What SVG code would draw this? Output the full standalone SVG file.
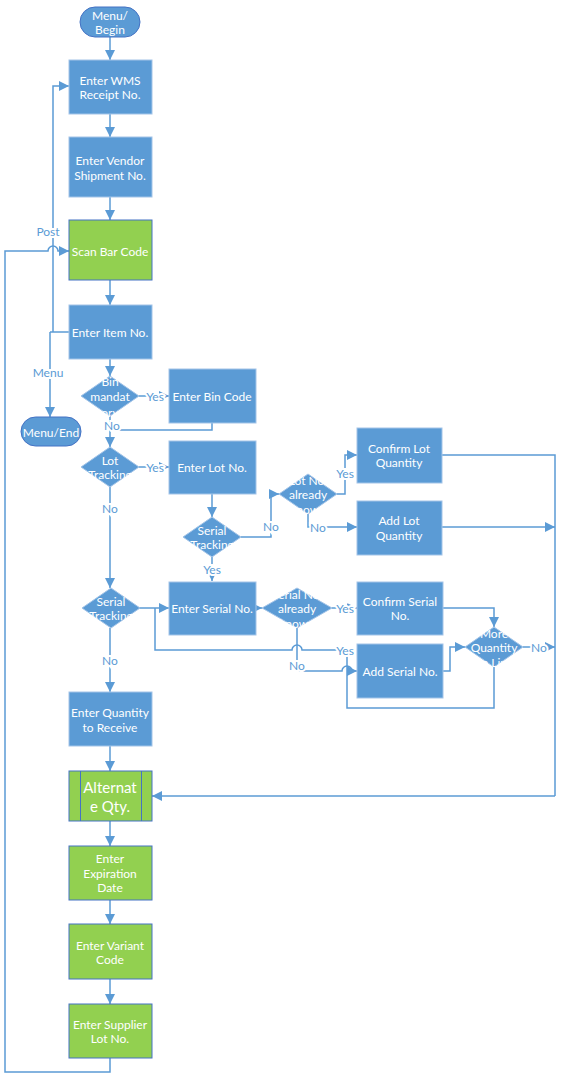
<svg xmlns="http://www.w3.org/2000/svg" width="581" height="1084" viewBox="0 0 581 1084">
<style>
.b{fill:#5B9BD5;stroke:#A3C4E8;stroke-width:1}
.g{fill:#92D050;stroke:#4472C4;stroke-width:1}
.term{fill:#5B9BD5;stroke:#4472C4;stroke-width:1}
.t{font-family:Lato,"Open Sans",sans-serif;font-size:12px;fill:#fff;text-anchor:middle;dominant-baseline:central}
.big{font-size:15px}
.l{font-family:Lato,"Open Sans",sans-serif;font-size:12px;fill:#5B9BD5;text-anchor:middle;dominant-baseline:central;stroke:#fff;stroke-width:4;paint-order:stroke}
.c{fill:none;stroke:#5B9BD5;stroke-width:1.5}
.a{marker-end:url(#ah)}
</style>
<defs>
<marker id="ah" markerUnits="userSpaceOnUse" markerWidth="10" markerHeight="10" viewBox="0 0 10 10" refX="10" refY="5" orient="auto">
<path d="M0,0 L10,5 L0,10 Z" fill="#5B9BD5"/>
</marker>
</defs>
<rect width="581" height="1084" fill="#fff"/>

<g id="connectors">
<path class="c a" d="M110,37 V60"/>
<path class="c a" d="M110,114 V137"/>
<path class="c a" d="M110,197 V220"/>
<path class="c a" d="M110,280 V305"/>
<path class="c a" d="M110,359 V376"/>
<path class="c" d="M69,332 H50"/>
<path class="c a" d="M53,332 V86 H69"/>
<path class="c a" d="M50,332 V417"/>
<path class="c a" d="M110,1058 V1072 H5 V251 H48 A5,5 0 0 1 58,251 H69"/>
<path class="c a" d="M139,396 H169"/>
<path class="c a" d="M110,416 V447"/>
<path class="c" d="M212,423 V430 H110"/>
<path class="c a" d="M139,467 H169"/>
<path class="c a" d="M212,494 V517"/>
<path class="c a" d="M241,537 H271 V494 H279"/>
<path class="c a" d="M212,557 V581"/>
<path class="c a" d="M337,494 H345 V455 H357"/>
<path class="c a" d="M308,514 V527 H357"/>
<path class="c" d="M442,455 H555 V796"/>
<path class="c a" d="M442,527 H555"/>
<path class="c a" d="M555,796 H152"/>
<path class="c a" d="M110,487 V588"/>
<path class="c a" d="M139,608 H169"/>
<path class="c a" d="M256,608 H262"/>
<path class="c a" d="M332,608 H357"/>
<path class="c a" d="M443,608 H494 V627"/>
<path class="c a" d="M443,671 H450 V647 H465"/>
<path class="c a" d="M523,647 H555"/>
<path class="c" d="M494,667 V708 H347 V650 H302 A5,5 0 0 0 292,650 H155 V608"/>
<path class="c a" d="M297,628 V671 H342 A5,5 0 0 1 352,671 H357"/>
<path class="c a" d="M110,628 V692"/>
<path class="c a" d="M110,746 V771"/>
<path class="c a" d="M110,821 V846"/>
<path class="c a" d="M110,900 V924"/>
<path class="c a" d="M110,979 V1004"/>
<text class="l" x="48" y="231">Post</text>
<text class="l" x="48" y="372">Menu</text>
<text class="l" x="155" y="396">Yes</text>
<text class="l" x="112" y="425">No</text>
<text class="l" x="155" y="467">Yes</text>
<text class="l" x="110" y="508">No</text>
<text class="l" x="271" y="526">No</text>
<text class="l" x="212" y="569">Yes</text>
<text class="l" x="345" y="473">Yes</text>
<text class="l" x="318" y="527">No</text>
<text class="l" x="345" y="608">Yes</text>
<text class="l" x="345" y="650">Yes</text>
<text class="l" x="297" y="665">No</text>
<text class="l" x="539" y="647">No</text>
<text class="l" x="110" y="660">No</text>
</g>

<g id="menu-begin"><rect class="term" x="80" y="7" width="60" height="30" rx="15"/><text class="t" x="110" y="15">Menu/</text><text class="t" x="110" y="29">Begin</text></g>
<g id="wms"><rect class="b" x="69" y="60" width="83" height="54"/><text class="t" x="110" y="80">Enter WMS</text><text class="t" x="110" y="94">Receipt No.</text></g>
<g id="vendor"><rect class="b" x="69" y="137" width="83" height="60"/><text class="t" x="110" y="160">Enter Vendor</text><text class="t" x="110" y="175">Shipment No.</text></g>
<g id="scan"><rect class="g" x="69" y="220" width="83" height="60"/><text class="t" x="110" y="251">Scan Bar Code</text></g>
<g id="item"><rect class="b" x="69" y="305" width="83" height="54"/><text class="t" x="110" y="332">Enter Item No.</text></g>
<g id="bin-mandatory"><path class="b" d="M110,376 L139,396 L110,416 L81,396 Z"/><text class="t" x="110" y="381">Bin</text><text class="t" x="110" y="396">mandat</text><text class="t" x="110" y="412">ory</text></g>
<g id="bin-code"><rect class="b" x="169" y="369" width="87" height="54"/><text class="t" x="212" y="396">Enter Bin Code</text></g>
<g id="menu-end"><rect class="term" x="21" y="417" width="60" height="29" rx="14.5"/><text class="t" x="51" y="432">Menu/End</text></g>
<g id="lot-tracking"><path class="b" d="M110,447 L139,467 L110,487 L81,467 Z"/><text class="t" x="110" y="460">Lot</text><text class="t" x="110" y="474">Tracking</text></g>
<g id="lot-no"><rect class="b" x="169" y="441" width="87" height="53"/><text class="t" x="212" y="467">Enter Lot No.</text></g>
<g id="serial-tracking-1"><path class="b" d="M212,517 L241,537 L212,557 L183,537 Z"/><text class="t" x="212" y="530">Serial</text><text class="t" x="212" y="544">Tracking</text></g>
<g id="lot-known"><path class="b" d="M308,474 L337,494 L308,514 L279,494 Z"/><text class="t" x="308" y="480">Lot No.</text><text class="t" x="308" y="494">already</text><text class="t" x="308" y="509">known</text></g>
<g id="confirm-lot"><rect class="b" x="357" y="428" width="85" height="55"/><text class="t" x="399" y="448">Confirm Lot</text><text class="t" x="399" y="462">Quantity</text></g>
<g id="add-lot"><rect class="b" x="357" y="501" width="85" height="54"/><text class="t" x="399" y="520">Add Lot</text><text class="t" x="399" y="535">Quantity</text></g>
<g id="serial-tracking-2"><path class="b" d="M111,588 L140,608 L111,628 L82,608 Z"/><text class="t" x="111" y="601">Serial</text><text class="t" x="111" y="615">Tracking</text></g>
<g id="serial-no"><rect class="b" x="169" y="582" width="87" height="53"/><text class="t" x="212" y="608">Enter Serial No.</text></g>
<g id="serial-known"><path class="b" d="M297,588 L332,608 L297,628 L262,608 Z"/><text class="t" x="297" y="594">Serial No.</text><text class="t" x="297" y="608">already</text><text class="t" x="297" y="623">known</text></g>
<g id="confirm-serial"><rect class="b" x="357" y="582" width="86" height="53"/><text class="t" x="400" y="601">Confirm Serial</text><text class="t" x="400" y="615">No.</text></g>
<g id="add-serial"><rect class="b" x="357" y="644" width="86" height="54"/><text class="t" x="400" y="671">Add Serial No.</text></g>
<g id="more-qty"><path class="b" d="M494,627 L523,647 L494,667 L465,647 Z"/><text class="t" x="494" y="633">More</text><text class="t" x="494" y="647">Quantity</text><text class="t" x="494" y="662">on Line</text></g>
<g id="qty-receive"><rect class="b" x="69" y="692" width="83" height="54"/><text class="t" x="110" y="712">Enter Quantity</text><text class="t" x="110" y="727">to Receive</text></g>
<g id="alt-qty"><rect class="g" x="69" y="771" width="83" height="50"/><line x1="80.5" y1="771" x2="80.5" y2="821" stroke="#4472C4"/><line x1="141.5" y1="771" x2="141.5" y2="821" stroke="#4472C4"/><text class="t big" x="110" y="787">Alternat</text><text class="t big" x="110" y="806">e Qty.</text></g>
<g id="expiration"><rect class="g" x="69" y="846" width="83" height="54"/><text class="t" x="110" y="858">Enter</text><text class="t" x="110" y="873">Expiration</text><text class="t" x="110" y="887">Date</text></g>
<g id="variant"><rect class="g" x="69" y="924" width="83" height="55"/><text class="t" x="110" y="945">Enter Variant</text><text class="t" x="110" y="959">Code</text></g>
<g id="supplier-lot"><rect class="g" x="69" y="1004" width="83" height="54"/><text class="t" x="110" y="1024">Enter Supplier</text><text class="t" x="110" y="1038">Lot No.</text></g>
</svg>
